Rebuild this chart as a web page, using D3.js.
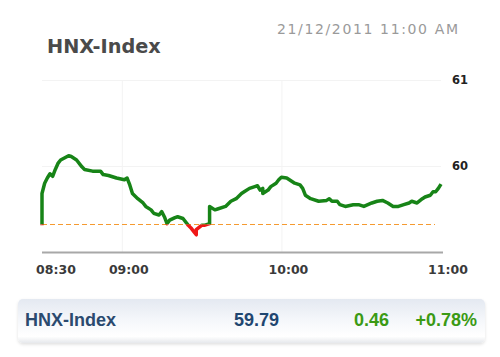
<!DOCTYPE html>
<html>
<head>
<meta charset="utf-8">
<script src="https://cdn.jsdelivr.net/npm/d3@7"></script>
<style>
  html, body { margin: 0; padding: 0; background: #fff; }
  svg { display: block; }
</style>
</head>
<body>
<script>
const title = "HNX-Index";
const stamp = "21/12/2011 11:00 AM";
const prevClose = 59.33;
const lastValue = 59.79;
const change = 0.46;
const changePct = "+0.78%";

const xTicks = ["08:30", "09:00", "10:00", "11:00"];
const yTicks = [60, 61];

// intraday index values
const times = [
  "08:30", "08:30", "08:31", "08:32", "08:33", "08:34", "08:35", "08:36", "08:37", "08:40",
  "08:41", "08:43", "08:45", "08:46", "08:49", "08:52", "08:53", "08:55", "08:58", "09:01",
  "09:02", "09:03", "09:04", "09:06", "09:08", "09:09", "09:11", "09:12", "09:14", "09:15",
  "09:16", "09:17", "09:18", "09:20", "09:21", "09:23", "09:25", "09:26", "09:27", "09:28",
  "09:28", "09:30", "09:31", "09:33", "09:33", "09:35", "09:36", "09:39", "09:41", "09:43",
  "09:45", "09:46", "09:48", "09:50", "09:51", "09:52", "09:53", "09:53", "09:55", "09:56",
  "09:58", "09:59", "10:00", "10:02", "10:04", "10:05", "10:07", "10:08", "10:09", "10:11",
  "10:14", "10:17", "10:18", "10:19", "10:21", "10:22", "10:24", "10:27", "10:29", "10:31",
  "10:34", "10:36", "10:38", "10:40", "10:42", "10:44", "10:46", "10:48", "10:49", "10:51",
  "10:53", "10:54", "10:56", "10:57", "10:58", "10:59", "11:00"
];
const values = [
  59.31, 59.68, 59.80, 59.86, 59.91, 59.88, 59.96, 60.03, 60.07, 60.12,
  60.11, 60.07, 59.99, 59.96, 59.94, 59.94, 59.90, 59.89, 59.86, 59.84,
  59.86, 59.78, 59.68, 59.62, 59.57, 59.53, 59.49, 59.45, 59.43, 59.47,
  59.41, 59.33, 59.37, 59.40, 59.41, 59.39, 59.31, 59.28, 59.24, 59.20,
  59.26, 59.31, 59.31, 59.33, 59.53, 59.49, 59.50, 59.53, 59.59, 59.62,
  59.68, 59.70, 59.74, 59.76, 59.77, 59.72, 59.74, 59.68, 59.72, 59.76,
  59.80, 59.84, 59.87, 59.86, 59.82, 59.80, 59.78, 59.74, 59.66, 59.62,
  59.59, 59.60, 59.62, 59.59, 59.59, 59.55, 59.53, 59.55, 59.55, 59.53,
  59.57, 59.59, 59.60, 59.57, 59.53, 59.53, 59.55, 59.57, 59.59, 59.57,
  59.62, 59.64, 59.66, 59.70, 59.70, 59.74, 59.79
];

const width = 500;
const height = 357;
const parse = d3.timeParse("%H:%M");
const data = times.map((t, i) => ({t: parse(t), v: values[i]}));

const x = d3.scaleTime()
  .domain([parse("08:30"), parse("11:00")])
  .range([42, 441]);

const y = d3.scaleLinear()
  .domain([59, 61])
  .range([252, 80]);

const svg = d3.select("body").append("svg")
    .attr("width", width)
    .attr("height", height);

const defs = svg.append("defs");

// header
svg.append("text")
    .attr("x", 47)
    .attr("y", 53)
    .attr("font-family", "DejaVu Sans")
    .attr("font-weight", "bold")
    .attr("font-size", 19.3)
    .attr("fill", "#4a4a4a")
    .text(title);

svg.append("text")
    .attr("x", 277)
    .attr("y", 33.5)
    .attr("font-family", "DejaVu Sans")
    .attr("font-size", 14)
    .attr("fill", "#9a9a9a")
    .attr("textLength", 181)
    .attr("lengthAdjust", "spacing")
    .text(stamp);

// grid
svg.append("g")
    .attr("stroke", "#f3f3f3")
    .attr("stroke-width", 1)
  .selectAll("line")
  .data(xTicks.slice(1, 3).map(parse))
  .join("line")
    .attr("x1", d => x(d) + 0.5)
    .attr("x2", d => x(d) + 0.5)
    .attr("y1", y(61))
    .attr("y2", y(59));

svg.append("g")
    .attr("stroke", "#f3f3f3")
    .attr("stroke-width", 1)
  .selectAll("line")
  .data(yTicks)
  .join("line")
    .attr("x1", x.range()[0])
    .attr("x2", x.range()[1])
    .attr("y1", d => y(d) + 0.5)
    .attr("y2", d => y(d) + 0.5);

// y labels
svg.append("g")
    .attr("font-family", "DejaVu Sans")
    .attr("font-weight", "bold")
    .attr("font-size", 11.5)
    .attr("fill", "#222")
  .selectAll("text")
  .data(yTicks)
  .join("text")
    .attr("x", 452)
    .attr("y", d => y(d))
    .attr("dy", "0.35em")
    .text(d => d);

// x axis
svg.append("line")
    .attr("x1", 42)
    .attr("x2", 443)
    .attr("y1", 252.5)
    .attr("y2", 252.5)
    .attr("stroke", "#a8a8a8")
    .attr("stroke-width", 2);

svg.append("g")
    .attr("font-family", "DejaVu Sans")
    .attr("font-weight", "bold")
    .attr("font-size", 12.5)
    .attr("fill", "#3a3a3a")
    .attr("text-anchor", "middle")
  .selectAll("text")
  .data(xTicks)
  .join("text")
    .attr("x", d => Math.max(x(parse(d)) + 7, 56))
    .attr("y", 274)
    .text(d => d);

// previous close
const yb = Math.round(y(prevClose)) + 0.5;
svg.append("line")
    .attr("x1", 42)
    .attr("x2", 435)
    .attr("y1", yb)
    .attr("y2", yb)
    .attr("stroke", "#f59a30")
    .attr("stroke-width", 1)
    .attr("stroke-dasharray", "5,3");

// the line, green above previous close and red below
defs.append("clipPath").attr("id", "above")
  .append("rect").attr("x", 0).attr("y", 0).attr("width", width).attr("height", yb);
defs.append("clipPath").attr("id", "below")
  .append("rect").attr("x", 0).attr("y", yb).attr("width", width).attr("height", height - yb);

const line = d3.line()
  .x(d => x(d.t))
  .y(d => y(d.v));

svg.append("path")
    .datum(data)
    .attr("clip-path", "url(#above)")
    .attr("fill", "none")
    .attr("stroke", "#178417")
    .attr("stroke-width", 3.5)
    .attr("stroke-linejoin", "round")
    .attr("d", line);

svg.append("path")
    .datum(data)
    .attr("clip-path", "url(#below)")
    .attr("fill", "none")
    .attr("stroke", "#f01818")
    .attr("stroke-width", 3.5)
    .attr("stroke-linejoin", "round")
    .attr("d", line);

// summary bar
const grad = defs.append("linearGradient")
    .attr("id", "bar").attr("x1", 0).attr("x2", 0).attr("y1", 0).attr("y2", 1);
grad.append("stop").attr("offset", "0%").attr("stop-color", "#e4e9f1");
grad.append("stop").attr("offset", "45%").attr("stop-color", "#f4f6fa");
grad.append("stop").attr("offset", "85%").attr("stop-color", "#ffffff");
grad.append("stop").attr("offset", "100%").attr("stop-color", "#e6e8ec");

const shadow = defs.append("filter").attr("id", "shadow")
    .attr("x", "-5%").attr("y", "-20%").attr("width", "110%").attr("height", "150%");
shadow.append("feDropShadow")
    .attr("dx", 0).attr("dy", 1.5).attr("stdDeviation", 1.5)
    .attr("flood-color", "#000").attr("flood-opacity", 0.12);

svg.append("rect")
    .attr("x", 18)
    .attr("y", 299)
    .attr("width", 467)
    .attr("height", 44)
    .attr("rx", 5)
    .attr("fill", "url(#bar)")
    .attr("filter", "url(#shadow)");

const summary = [
  {text: title, x: 25, anchor: "start", color: "#2b4a6f"},
  {text: d3.format(".2f")(lastValue), x: 279, anchor: "end", color: "#1f4670"},
  {text: d3.format(".2f")(change), x: 389, anchor: "end", color: "#3b9a14"},
  {text: changePct, x: 477, anchor: "end", color: "#3b9a14"}
];

svg.append("g")
    .attr("font-family", "Liberation Sans, Arial, sans-serif")
    .attr("font-weight", "bold")
    .attr("font-size", 18)
  .selectAll("text")
  .data(summary)
  .join("text")
    .attr("x", d => d.x)
    .attr("y", 325.5)
    .attr("text-anchor", d => d.anchor)
    .attr("fill", d => d.color)
    .text(d => d.text);
</script>
</body>
</html>
